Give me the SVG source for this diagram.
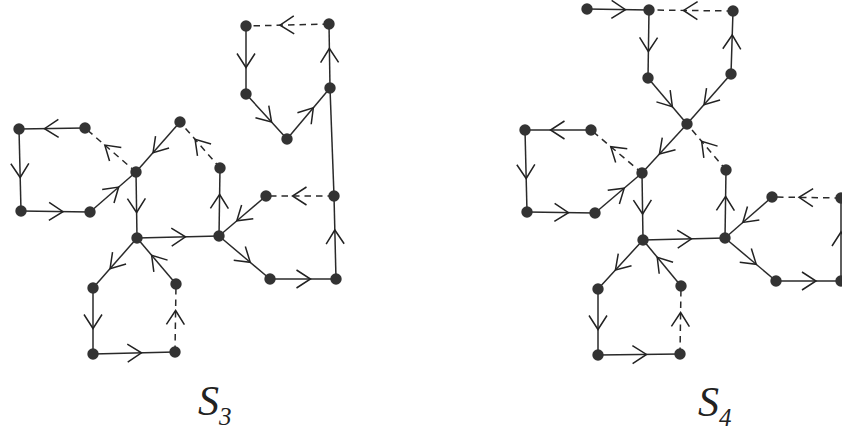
<svg xmlns="http://www.w3.org/2000/svg" width="842" height="434" viewBox="0 0 842 434">
<defs>
<marker id="ch" markerUnits="userSpaceOnUse" viewBox="-12 -12 24 24" markerWidth="24" markerHeight="24" refX="0" refY="0" orient="auto" overflow="visible">
<path d="M -6.5 -9 L 7.5 0 L -6.5 9" fill="none" stroke="#222" stroke-width="1.5"/>
</marker>
</defs>
<style>
.e{fill:none;stroke:#2a2a2a;stroke-width:1.5;marker-mid:url(#ch)}
.d{stroke-dasharray:6.5 5}
.n{fill:#333}
.lbl{font-family:"Liberation Serif","Times New Roman",serif;font-style:italic;fill:#222}
</style>
<rect width="842" height="434" fill="#fff"/>
<g id="connectors">
<path class="e d" d="M329 24 L287.5 25 L246 26"/>
<path class="e" d="M246 26 L246 60 L246 94"/>
<path class="e" d="M246 94 L266.5 116.5 L287 139"/>
<path class="e" d="M287 139 L308.5 113.5 L330 88"/>
<path class="e" d="M330 88 L329.5 56 L329 24"/>
<path class="e" d="M330 88 L334 196" style="marker-mid:none"/>
<path class="e" d="M336 279 L335 237.5 L334 196"/>
<path class="e d" d="M334 196 L300 196 L266 196"/>
<path class="e" d="M266 196 L242.5 216 L219 236"/>
<path class="e" d="M219 236 L219.5 202 L220 168"/>
<path class="e d" d="M220 168 L200 145 L180 122"/>
<path class="e" d="M180 122 L158 147 L136 172"/>
<path class="e d" d="M136 172 L110.5 150 L85 128"/>
<path class="e" d="M85 128 L52 128.5 L19 129"/>
<path class="e" d="M19 129 L20 170 L21 211"/>
<path class="e" d="M21 211 L55.5 211.5 L90 212"/>
<path class="e" d="M90 212 L113 192 L136 172"/>
<path class="e" d="M136 172 L136.5 205 L137 238"/>
<path class="e" d="M137 238 L178 237 L219 236"/>
<path class="e" d="M219 236 L244.5 257.5 L270 279"/>
<path class="e" d="M270 279 L303 279 L336 279"/>
<path class="e" d="M137 238 L115 263 L93 288"/>
<path class="e" d="M93 288 L93 321 L93 354"/>
<path class="e" d="M93 354 L134 353 L175 352"/>
<path class="e d" d="M175 352 L175.5 318 L176 284"/>
<path class="e" d="M176 284 L156.5 261 L137 238"/>
<path class="e" d="M587 9 L618 9.5 L649 10"/>
<path class="e d" d="M733 11 L691 10.5 L649 10"/>
<path class="e" d="M649 10 L648.5 44 L648 78"/>
<path class="e" d="M648 78 L667.5 101 L687 124"/>
<path class="e" d="M731 74 L709 99 L687 124"/>
<path class="e" d="M731 74 L732 42.5 L733 11"/>
<path class="e" d="M687 124 L664.5 148.5 L642 173"/>
<path class="e d" d="M726 170 L706.5 147 L687 124"/>
<path class="e d" d="M642 173 L616.5 151.5 L591 130"/>
<path class="e" d="M591 130 L558 130 L525 130"/>
<path class="e" d="M525 130 L526 171 L527 212"/>
<path class="e" d="M527 212 L561 212.5 L595 213"/>
<path class="e" d="M595 213 L618.5 193 L642 173"/>
<path class="e" d="M642 173 L642.5 206.5 L643 240"/>
<path class="e" d="M643 240 L684 239 L725 238"/>
<path class="e" d="M725 238 L725.5 204 L726 170"/>
<path class="e" d="M772 197 L748.5 217.5 L725 238"/>
<path class="e d" d="M841 198 L806.5 197.5 L772 197"/>
<path class="e" d="M841 281 L841 239.5 L841 198"/>
<path class="e" d="M725 238 L750.5 259.5 L776 281"/>
<path class="e" d="M776 281 L808.5 281 L841 281"/>
<path class="e" d="M643 240 L620.5 264.5 L598 289"/>
<path class="e" d="M598 289 L598 322 L598 355"/>
<path class="e" d="M598 355 L639 354.5 L680 354"/>
<path class="e d" d="M680 354 L680.5 320 L681 286"/>
<path class="e" d="M681 286 L662 263 L643 240"/>
</g>
<g id="nodes-s3">
<g id="s3-a"><circle class="n" cx="246" cy="26" r="5.7"/></g>
<g id="s3-b"><circle class="n" cx="329" cy="24" r="5.7"/></g>
<g id="s3-c"><circle class="n" cx="246" cy="94" r="5.7"/></g>
<g id="s3-d"><circle class="n" cx="287" cy="139" r="5.7"/></g>
<g id="s3-e"><circle class="n" cx="330" cy="88" r="5.7"/></g>
<g id="s3-f"><circle class="n" cx="19" cy="129" r="5.7"/></g>
<g id="s3-g"><circle class="n" cx="85" cy="128" r="5.7"/></g>
<g id="s3-h"><circle class="n" cx="180" cy="122" r="5.7"/></g>
<g id="s3-i"><circle class="n" cx="136" cy="172" r="5.7"/></g>
<g id="s3-j"><circle class="n" cx="220" cy="168" r="5.7"/></g>
<g id="s3-k"><circle class="n" cx="266" cy="196" r="5.7"/></g>
<g id="s3-l"><circle class="n" cx="334" cy="196" r="5.7"/></g>
<g id="s3-m"><circle class="n" cx="21" cy="211" r="5.7"/></g>
<g id="s3-n"><circle class="n" cx="90" cy="212" r="5.7"/></g>
<g id="s3-o"><circle class="n" cx="137" cy="238" r="5.7"/></g>
<g id="s3-p"><circle class="n" cx="219" cy="236" r="5.7"/></g>
<g id="s3-q"><circle class="n" cx="270" cy="279" r="5.7"/></g>
<g id="s3-r"><circle class="n" cx="336" cy="279" r="5.7"/></g>
<g id="s3-s"><circle class="n" cx="93" cy="288" r="5.7"/></g>
<g id="s3-t"><circle class="n" cx="176" cy="284" r="5.7"/></g>
<g id="s3-u"><circle class="n" cx="93" cy="354" r="5.7"/></g>
<g id="s3-v"><circle class="n" cx="175" cy="352" r="5.7"/></g>
</g>
<g id="nodes-s4">
<g id="s4-a"><circle class="n" cx="587" cy="9" r="5.7"/></g>
<g id="s4-b"><circle class="n" cx="649" cy="10" r="5.7"/></g>
<g id="s4-c"><circle class="n" cx="733" cy="11" r="5.7"/></g>
<g id="s4-d"><circle class="n" cx="648" cy="78" r="5.7"/></g>
<g id="s4-e"><circle class="n" cx="731" cy="74" r="5.7"/></g>
<g id="s4-f"><circle class="n" cx="687" cy="124" r="5.7"/></g>
<g id="s4-g"><circle class="n" cx="525" cy="130" r="5.7"/></g>
<g id="s4-h"><circle class="n" cx="591" cy="130" r="5.7"/></g>
<g id="s4-i"><circle class="n" cx="642" cy="173" r="5.7"/></g>
<g id="s4-j"><circle class="n" cx="726" cy="170" r="5.7"/></g>
<g id="s4-k"><circle class="n" cx="772" cy="197" r="5.7"/></g>
<g id="s4-l"><circle class="n" cx="841" cy="198" r="5.7"/></g>
<g id="s4-m"><circle class="n" cx="527" cy="212" r="5.7"/></g>
<g id="s4-n"><circle class="n" cx="595" cy="213" r="5.7"/></g>
<g id="s4-o"><circle class="n" cx="643" cy="240" r="5.7"/></g>
<g id="s4-p"><circle class="n" cx="725" cy="238" r="5.7"/></g>
<g id="s4-q"><circle class="n" cx="776" cy="281" r="5.7"/></g>
<g id="s4-r"><circle class="n" cx="841" cy="281" r="5.7"/></g>
<g id="s4-s"><circle class="n" cx="598" cy="289" r="5.7"/></g>
<g id="s4-t"><circle class="n" cx="681" cy="286" r="5.7"/></g>
<g id="s4-u"><circle class="n" cx="598" cy="355" r="5.7"/></g>
<g id="s4-v"><circle class="n" cx="680" cy="354" r="5.7"/></g>
</g>
<g id="labels">
<text class="lbl" x="198" y="415" font-size="42">S<tspan font-size="25" dy="10">3</tspan></text>
<text class="lbl" x="698" y="416" font-size="42">S<tspan font-size="25" dy="10">4</tspan></text>
</g>
</svg>
